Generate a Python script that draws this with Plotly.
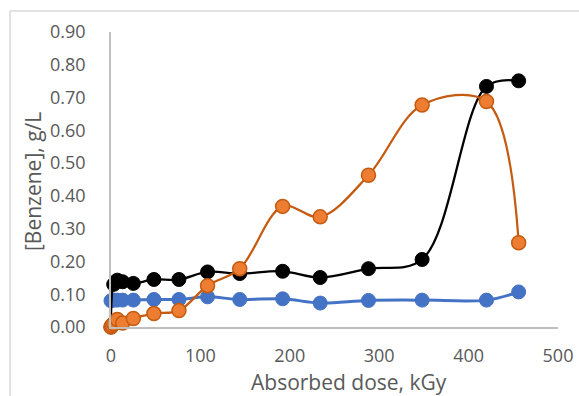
import plotly.graph_objects as go

# Data
dose_black = [0, 3, 7, 13, 25, 48, 76, 108, 144, 192, 234, 288, 348, 420, 456]
benz_black = [0.0, 0.130, 0.143, 0.138, 0.133, 0.145, 0.145, 0.168, 0.163, 0.170, 0.151, 0.178, 0.206, 0.734, 0.751]

dose_blue = [0, 3, 7, 13, 25, 48, 76, 108, 144, 192, 234, 288, 348, 420, 456]
benz_blue = [0.080, 0.082, 0.082, 0.082, 0.082, 0.084, 0.084, 0.092, 0.084, 0.086, 0.073, 0.081, 0.082, 0.082, 0.107]

dose_orange = [0, 1, 3, 7, 13, 25, 48, 76, 108, 144, 192, 234, 288, 348, 420, 456]
benz_orange = [0.0, 0.005, 0.010, 0.023, 0.012, 0.026, 0.041, 0.050, 0.126, 0.178, 0.368, 0.336, 0.463, 0.677, 0.688, 0.257]

x_ticks = [0, 100, 200, 300, 400, 500]
y_ticks = [0.0, 0.1, 0.2, 0.3, 0.4, 0.5, 0.6, 0.7, 0.8, 0.9]

FONT = "Open Sans"
GREY = "#595959"

fig = go.Figure()
fig.add_trace(go.Scatter(
    x=dose_blue, y=benz_blue, mode="lines+markers",
    line=dict(color="#4472C4", width=3, shape="spline", smoothing=1.0),
    marker=dict(color="#4472C4", size=14, line=dict(color="#4472C4", width=1)),
    cliponaxis=False, showlegend=False))
fig.add_trace(go.Scatter(
    x=dose_black, y=benz_black, mode="lines+markers",
    line=dict(color="#000000", width=2.25, shape="spline", smoothing=1.0),
    marker=dict(color="#000000", size=14, line=dict(color="#000000", width=1)),
    cliponaxis=False, showlegend=False))
fig.add_trace(go.Scatter(
    x=dose_orange, y=benz_orange, mode="lines+markers",
    line=dict(color="#C55A11", width=2.25, shape="spline", smoothing=1.0),
    marker=dict(color="#ED7D31", size=14, line=dict(color="#C55A11", width=1.5)),
    cliponaxis=False, showlegend=False))

fig.update_layout(
    width=579, height=396,
    margin=dict(l=111, r=21, t=32, b=69, autoexpand=False),
    paper_bgcolor="white", plot_bgcolor="white",
    font=dict(family=FONT, color=GREY, size=18),
    xaxis=dict(range=[0, 500], tickvals=x_ticks, ticktext=[str(v) for v in x_ticks],
               showgrid=False, zeroline=False, showline=True, linecolor="#BFBFBF", linewidth=1.5,
               ticks="outside", ticklen=0, ticklabelstandoff=12, automargin=False,
               tickfont=dict(family=FONT, size=18, color=GREY)),
    yaxis=dict(range=[0, 0.9], tickvals=y_ticks, ticktext=[f"{v:.2f}" for v in y_ticks],
               showgrid=False, zeroline=False, showline=True, linecolor="#BFBFBF", linewidth=1.5,
               ticks="outside", ticklen=0, ticklabelstandoff=20, automargin=False,
               tickfont=dict(family=FONT, size=18, color=GREY)),
)

# axis titles as annotations (pixel-placed like the reference)
fig.add_annotation(text="Absorbed dose, kGy", xref="paper", yref="paper",
                   x=(348.5 - 111) / (558 - 111), y=-(381.7 - 327) / (327 - 32),
                   xanchor="center", yanchor="middle", showarrow=False,
                   font=dict(family=FONT, size=21, color=GREY))
fig.add_annotation(text="[Benzene], g/L", xref="paper", yref="paper",
                   x=-(111 - 33) / (558 - 111), y=(327 - 182) / (327 - 32),
                   xanchor="center", yanchor="middle", showarrow=False, textangle=-90,
                   font=dict(family=FONT, size=21, color=GREY))

# chart-area border (top and left visible)
fig.add_shape(type="line", xref="paper", yref="paper",
              x0=(10 - 111) / 447, x1=(579 - 111) / 447,
              y0=(327 - 11) / 295, y1=(327 - 11) / 295,
              line=dict(color="#D9D9D9", width=1.5))
fig.add_shape(type="line", xref="paper", yref="paper",
              x0=(10 - 111) / 447, x1=(10 - 111) / 447,
              y0=(327 - 11) / 295, y1=-(396 - 327) / 295,
              line=dict(color="#D9D9D9", width=1.5))

fig.write_html("out.html", config={"displayModeBar": False},
               post_script="document.body.style.margin='0';document.body.style.overflow='hidden';")
